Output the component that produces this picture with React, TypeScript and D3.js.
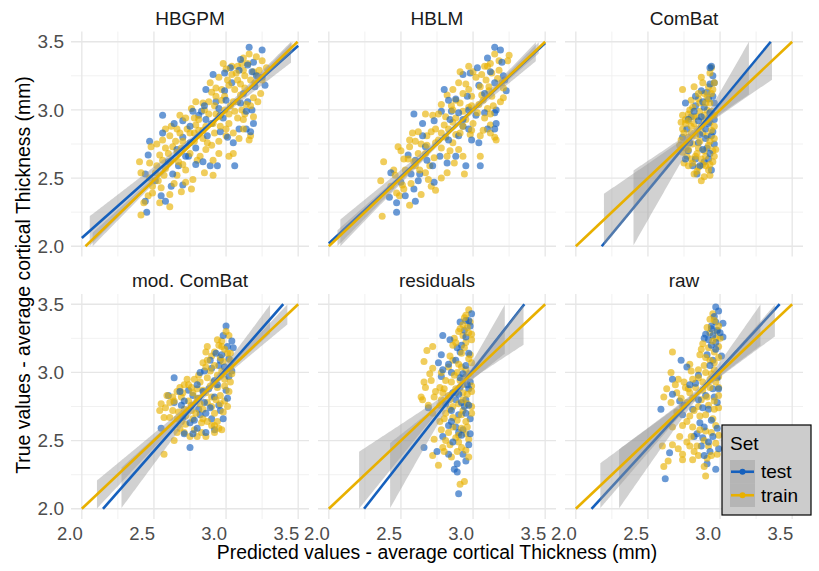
import React from "react";
import * as d3 from "d3";

const panelNames = ["HBGPM", "HBLM", "ComBat", "mod. ComBat", "residuals", "raw"];
const majorTicks = [2.0, 2.5, 3.0, 3.5];
const minorTicks = [2.25, 2.75, 3.25];
const tickLabels = ["2.0", "2.5", "3.0", "3.5"];
const setNames = ["test", "train"];

// regression lines (y = a + b x), per panel
const testSlope = [0.94, 0.98, 1.28, 1.2, 1.35, 1.15];
const testIntercept = [0.18, 0.06, -0.79, -0.576, -1.03, -0.425];
const trainSlope = [1.02, 1.0, 1.0, 1.0, 1.0, 1.0];
const trainIntercept = [-0.066, 0.0, 0.0, 0.0, 0.0, 0.0];
// confidence band: half width = sqrt(h0^2 + (k (x - mean))^2)
const testBandH0 = [0.02, 0.02, 0.03, 0.03, 0.03, 0.03];
const testBandK = [0.13, 0.12, 0.58, 0.24, 0.52, 0.37];
const trainBandH0 = [0.01, 0.01, 0.02, 0.02, 0.02, 0.02];
const trainBandK = [0.06, 0.07, 0.28, 0.13, 0.31, 0.23];
const meanX = [2.88, 2.88, 2.87, 2.88, 2.88, 2.88];

const hbgpmTest = [[3.16,3.46],[3.25,3.44],[3.19,3.35],[3.27,3.18],[2.91,3.26],[2.99,3.27],[3.03,3.31],[2.86,3.15],[2.56,2.96],[2.77,2.99],[2.83,2.99],[2.85,3.03],[2.95,3.01],[2.64,2.90],[2.70,2.92],[2.75,2.88],[2.56,2.83],[2.47,2.77],[2.46,2.67],[2.74,2.66],[2.79,2.60],[2.89,2.59],[2.94,2.59],[3.06,2.59],[3.05,2.76],[3.09,2.86],[3.14,2.86],[3.17,2.84],[3.19,2.90],[3.18,3.00],[3.14,2.99],[3.15,3.06],[3.20,3.17],[3.18,3.28],[3.15,3.33],[3.09,3.29],[3.04,3.20],[2.99,3.14],[2.62,2.44],[2.70,2.45],[2.55,2.37],[2.58,2.33],[2.44,2.33],[2.45,2.25],[2.44,2.53],[2.63,2.53],[2.67,2.59],[2.72,2.66],[2.79,2.72],[2.87,2.81],[2.96,2.96],[2.86,2.93],[2.70,2.80],[2.75,2.76],[2.98,2.94],[3.10,3.37],[3.21,3.25],[3.12,3.12],[3.00,3.07],[2.93,3.06],[2.81,2.96],[2.90,2.90],[2.96,2.84],[2.66,2.71],[2.60,2.62],[2.51,2.48],[2.84,2.62],[3.01,2.80],[3.10,3.05],[3.25,3.24]];
const hbgpmTrain = [[3.16,3.41],[3.25,3.36],[3.15,3.34],[3.08,3.32],[3.12,3.29],[3.04,3.26],[2.95,3.24],[2.89,3.20],[3.01,3.22],[3.08,3.22],[3.24,3.12],[3.19,3.09],[3.10,3.11],[3.05,3.06],[2.93,3.10],[2.88,3.06],[2.79,3.06],[2.68,2.96],[2.72,2.94],[2.81,2.93],[2.91,2.90],[2.96,2.88],[3.02,2.90],[3.08,2.94],[3.12,2.93],[3.17,2.81],[3.16,2.78],[3.09,2.79],[3.00,2.81],[2.95,2.77],[2.84,2.85],[2.78,2.83],[2.62,2.88],[2.61,2.81],[2.56,2.78],[2.65,2.77],[2.48,2.73],[2.54,2.67],[2.60,2.68],[2.69,2.72],[2.75,2.68],[2.82,2.66],[2.85,2.54],[2.91,2.52],[3.02,2.66],[3.05,2.68],[2.77,2.49],[2.76,2.42],[2.69,2.40],[2.61,2.38],[2.49,2.44],[2.41,2.54],[2.40,2.62],[2.52,2.59],[2.57,2.52],[2.49,2.39],[2.43,2.32],[2.41,2.23],[2.61,2.29],[2.53,2.48],[2.67,2.62],[2.72,2.56],[2.87,2.76],[2.93,2.97],[2.85,3.00],[2.78,2.94],[2.97,3.15],[2.99,3.10],[3.06,3.15],[3.13,3.16],[3.17,3.22],[3.23,3.29],[3.19,3.28],[3.11,3.34],[3.04,3.32],[3.17,3.03],[3.19,2.95],[3.11,3.00],[3.02,2.97],[2.81,2.85],[2.75,2.83],[2.68,2.83],[2.63,2.73],[2.56,2.63],[2.51,2.54],[2.46,2.37],[2.54,2.32],[2.64,2.46],[2.80,2.63],[2.95,2.68],[2.91,2.63],[2.86,2.71],[3.25,3.22],[3.22,3.25],[3.00,3.30],[3.07,3.27],[3.13,3.25],[3.20,3.20],[3.10,3.19],[3.02,3.18],[2.93,3.16],[2.90,3.13],[2.97,3.07],[3.03,3.03],[3.08,3.06],[3.14,3.04],[3.22,3.06],[3.13,2.97],[3.06,2.99],[2.99,3.00],[2.92,3.03],[2.84,3.05],[2.76,3.01],[2.88,2.97],[2.95,2.95],[3.00,2.86],[3.05,2.83],[3.12,2.86],[2.92,2.83],[2.86,2.88],[2.79,2.89],[2.73,2.86],[2.66,2.86],[2.58,2.86],[2.70,2.77],[2.78,2.77],[2.84,2.79],[2.90,2.74],[2.66,2.69],[2.58,2.72],[2.52,2.75],[2.62,2.63],[2.70,2.60],[2.47,2.61],[2.58,2.57],[2.66,2.52],[2.72,2.47],[2.55,2.43],[2.47,2.50],[3.28,3.31],[3.21,3.39],[3.12,3.38],[2.98,3.34]];

const hblmTest = [[3.15,3.46],[3.19,3.44],[2.98,3.27],[3.03,3.31],[2.93,3.26],[3.12,3.28],[3.04,3.18],[3.15,3.20],[3.23,3.14],[3.20,3.35],[2.80,3.15],[2.83,3.07],[2.78,2.99],[2.73,2.92],[2.85,2.99],[2.90,2.98],[2.97,3.00],[3.02,2.96],[3.16,3.00],[3.15,2.98],[3.16,2.90],[3.10,2.86],[3.15,2.86],[3.04,2.76],[3.05,2.59],[2.95,2.59],[2.88,2.66],[2.77,2.66],[2.72,2.59],[2.59,2.97],[2.65,2.90],[2.55,2.67],[2.65,2.81],[2.43,2.54],[2.57,2.53],[2.63,2.53],[2.62,2.48],[2.73,2.47],[2.59,2.42],[2.53,2.37],[2.47,2.32],[2.60,2.33],[2.47,2.25],[2.42,2.36],[2.67,2.73],[2.83,2.78],[2.90,2.81],[2.97,2.86],[2.93,2.88],[3.10,3.38],[3.21,3.25],[3.08,3.12],[2.96,3.10],[2.88,3.08],[2.84,2.93],[2.93,2.93],[2.99,2.78],[2.60,2.63],[2.68,2.63],[2.50,2.47],[2.82,2.61],[3.08,2.98],[3.22,3.22]];
const hblmTrain = [[3.15,3.41],[3.24,3.36],[3.12,3.34],[3.08,3.32],[2.97,3.32],[3.18,3.29],[2.90,3.20],[2.97,3.15],[3.09,3.22],[3.13,3.10],[3.19,3.06],[3.06,3.11],[2.99,3.10],[2.88,3.07],[2.82,3.11],[2.78,3.04],[2.72,2.96],[2.81,2.95],[2.88,2.94],[2.95,2.93],[3.00,2.90],[3.08,2.94],[3.12,2.89],[3.16,2.78],[3.05,2.66],[2.98,2.82],[2.91,2.83],[2.83,2.86],[2.78,2.83],[2.71,2.84],[2.62,2.84],[2.56,2.78],[2.58,2.83],[2.48,2.73],[2.52,2.64],[2.38,2.62],[2.45,2.56],[2.59,2.62],[2.67,2.68],[2.73,2.65],[2.82,2.66],[2.87,2.61],[2.94,2.53],[2.82,2.54],[2.78,2.50],[2.74,2.41],[2.64,2.38],[2.56,2.30],[2.36,2.48],[2.37,2.22],[2.47,2.39],[2.51,2.45],[2.67,2.54],[2.70,2.59],[2.63,2.56],[2.49,2.37],[2.43,2.44],[2.76,2.78],[2.86,2.76],[2.90,2.71],[2.80,2.89],[2.97,3.02],[3.04,3.04],[3.10,3.01],[2.93,3.12],[3.02,3.24],[3.11,3.17],[3.17,3.23],[3.21,3.16],[3.15,2.80],[3.07,2.85],[2.56,2.73],[2.67,2.97],[2.74,2.76],[2.64,2.75],[2.86,3.00],[2.53,2.56],[2.71,2.44],[3.00,3.28],[3.06,3.26],[3.13,3.27],[3.20,3.20],[3.11,3.14],[3.05,3.17],[2.95,3.19],[2.86,3.15],[2.91,3.05],[2.99,3.03],[3.07,3.07],[3.14,3.03],[3.21,3.09],[3.12,2.97],[3.03,2.98],[2.93,2.99],[2.85,3.03],[2.76,2.97],[2.86,2.91],[2.93,2.88],[2.99,2.85],[3.05,2.81],[3.12,2.83],[2.88,2.82],[2.81,2.80],[2.74,2.86],[2.68,2.81],[2.60,2.77],[2.68,2.74],[2.78,2.72],[2.84,2.70],[2.93,2.66],[2.62,2.68],[2.55,2.64],[2.50,2.70],[2.60,2.59],[2.69,2.49],[2.57,2.46],[2.46,2.52],[2.52,2.42],[3.25,3.40],[3.18,3.36],[3.10,3.32],[2.91,3.28]];

const combatTest = [[2.94,3.32],[2.93,3.31],[2.95,3.25],[2.93,3.19],[2.91,3.13],[2.83,3.10],[2.76,3.05],[2.82,2.99],[2.89,3.02],[2.93,2.98],[2.96,2.93],[2.85,2.92],[2.77,2.86],[2.90,2.86],[2.94,2.81],[2.88,2.71],[2.93,2.68],[2.83,2.64],[2.86,2.59],[2.92,2.64],[2.76,2.64],[2.81,2.59],[2.96,2.75],[2.74,2.80],[2.79,2.76],[2.92,3.08],[2.87,3.14],[2.96,3.05],[2.90,2.79],[2.85,2.76],[2.78,2.93],[2.95,3.10],[2.88,3.06],[2.80,2.95],[2.87,2.95],[2.92,2.90],[2.95,2.84],[2.86,2.82],[2.91,2.72],[2.78,2.70],[2.89,2.62],[2.94,2.56],[2.84,2.53],[2.96,3.20],[2.83,3.03]];
const combatTrain = [[2.94,3.31],[2.93,3.27],[2.96,3.20],[2.74,3.15],[2.92,3.17],[2.85,3.12],[2.80,3.07],[2.74,2.96],[2.73,2.91],[2.76,2.93],[2.82,2.95],[2.89,2.96],[2.94,2.99],[2.96,2.88],[2.87,2.88],[2.80,2.88],[2.75,2.83],[2.73,2.78],[2.78,2.80],[2.83,2.81],[2.91,2.81],[2.96,2.79],[2.92,2.74],[2.85,2.72],[2.78,2.71],[2.74,2.69],[2.77,2.66],[2.83,2.66],[2.90,2.66],[2.96,2.66],[2.93,2.60],[2.88,2.60],[2.78,2.59],[2.89,2.51],[2.93,2.52],[2.84,2.55],[2.75,2.61],[2.87,3.24],[2.90,3.05],[2.81,3.02],[2.86,3.05],[2.93,2.91],[2.82,3.17],[2.78,2.97],[2.84,2.86],[2.94,3.12],[2.77,2.76],[2.90,2.59],[2.81,2.61],[2.97,2.71],[2.88,3.20],[2.95,3.15],[2.85,3.08],[2.91,3.09],[2.79,3.00],[2.86,2.99],[2.92,2.94],[2.76,2.90],[2.82,2.90],[2.89,2.92],[2.94,2.85],[2.88,2.83],[2.80,2.83],[2.74,2.86],[2.86,2.77],[2.93,2.77],[2.81,2.75],[2.76,2.72],[2.89,2.70],[2.95,2.70],[2.84,2.68],[2.80,2.64],[2.87,2.64],[2.92,2.56],[2.85,2.58],[2.82,2.53],[2.87,2.48],[2.91,3.00],[2.84,2.95],[2.78,2.92],[2.89,3.12],[2.93,3.05],[2.72,2.74],[2.96,2.96],[2.95,2.62]];

const modTest = [[3.00,3.34],[2.98,3.27],[3.04,3.23],[3.01,3.19],[3.05,3.18],[2.93,3.14],[2.96,3.09],[2.89,3.09],[2.85,3.01],[2.82,3.00],[2.64,2.96],[2.80,2.91],[2.74,2.87],[2.68,2.86],[2.64,2.78],[2.69,2.76],[2.81,2.81],[2.88,2.88],[2.92,2.94],[3.02,2.97],[3.04,3.01],[3.00,2.87],[3.01,2.81],[2.96,2.72],[2.98,2.66],[2.90,2.66],[2.86,2.70],[2.81,2.73],[2.78,2.65],[2.75,2.63],[2.80,2.59],[2.71,2.55],[2.86,2.56],[2.55,2.59],[2.75,2.45],[2.85,2.78],[2.95,3.05],[2.92,2.82],[3.02,3.10],[2.97,3.13],[2.90,3.03],[2.99,3.04],[2.94,2.91],[2.84,2.86],[2.77,2.83],[2.71,2.79],[2.95,2.76],[2.89,2.74],[2.82,2.69],[2.70,2.67],[2.92,2.58],[2.77,2.55],[2.60,2.83]];
const modTrain = [[3.02,3.27],[2.97,3.23],[2.95,3.20],[2.92,3.15],[3.01,3.14],[2.87,3.09],[2.84,3.07],[2.98,3.08],[3.03,3.04],[2.89,3.01],[2.94,2.98],[2.99,2.95],[3.03,2.93],[2.78,2.95],[2.73,2.95],[2.82,2.93],[2.71,2.91],[2.66,2.86],[2.59,2.83],[2.63,2.82],[2.69,2.82],[2.77,2.85],[2.84,2.87],[2.90,2.82],[2.96,2.83],[3.02,2.86],[3.01,2.75],[2.96,2.77],[2.90,2.75],[2.82,2.77],[2.76,2.76],[2.71,2.73],[2.63,2.72],[2.55,2.77],[2.54,2.72],[2.57,2.67],[2.66,2.66],[2.72,2.68],[2.79,2.70],[2.87,2.64],[2.94,2.64],[2.97,2.58],[2.92,2.61],[2.83,2.63],[2.72,2.62],[2.68,2.59],[2.75,2.53],[2.80,2.53],[2.64,2.50],[2.57,2.40],[2.86,2.53],[2.97,3.19],[2.87,3.19],[3.03,3.14],[2.89,2.90],[2.94,2.89],[2.76,2.89],[2.86,3.15],[2.68,2.89],[2.61,2.78],[3.00,3.30],[2.94,3.24],[2.99,3.17],[2.90,3.12],[2.96,3.11],[3.03,3.09],[2.92,3.05],[2.97,3.01],[2.86,3.04],[2.81,2.98],[2.87,2.96],[2.91,2.93],[2.99,2.90],[2.74,2.91],[2.80,2.88],[2.86,2.85],[2.93,2.80],[2.99,2.79],[2.70,2.85],[2.64,2.79],[2.74,2.79],[2.80,2.81],[2.87,2.78],[2.58,2.74],[2.67,2.71],[2.76,2.72],[2.84,2.73],[2.92,2.70],[2.98,2.71],[2.61,2.67],[2.69,2.64],[2.77,2.66],[2.84,2.66],[2.90,2.61],[2.95,2.59],[2.78,2.58],[2.71,2.56],[2.83,2.56],[2.92,2.56],[2.66,2.56],[3.04,2.99]];

const residTest = [[2.99,3.43],[2.95,3.38],[2.91,3.37],[2.98,3.34],[2.79,3.27],[2.84,3.24],[2.92,3.20],[2.95,3.26],[2.91,3.15],[2.78,3.13],[2.88,3.09],[2.95,3.05],[2.76,3.07],[2.79,3.02],[2.85,3.00],[2.93,2.99],[2.98,2.93],[2.91,2.89],[2.86,2.85],[2.95,2.80],[2.92,2.78],[2.88,2.80],[2.81,2.77],[2.69,2.74],[2.94,2.75],[2.98,2.66],[2.85,2.64],[2.88,2.60],[2.83,2.61],[2.93,2.58],[2.92,2.54],[2.79,2.53],[2.97,2.47],[2.66,2.45],[2.75,2.42],[2.83,2.40],[2.93,2.40],[2.87,2.29],[2.89,2.27],[2.90,2.11],[2.90,2.69],[2.97,2.88],[2.78,2.97],[2.97,3.38],[2.94,3.31],[2.97,3.14],[2.89,3.18],[2.83,3.06],[2.91,2.96],[2.96,2.91],[2.90,2.84],[2.97,2.76],[2.85,2.72],[2.95,2.70],[2.90,2.56],[2.98,2.55],[2.86,2.49],[2.95,2.35],[2.89,2.33]];
const residTrain = [[2.97,3.46],[2.95,3.42],[2.93,3.35],[2.98,3.37],[2.90,3.30],[2.97,3.29],[2.68,3.16],[2.72,3.19],[2.86,3.20],[2.94,3.18],[2.98,3.13],[2.84,3.12],[2.72,3.03],[2.71,2.94],[2.66,2.93],[2.67,2.89],[2.77,2.89],[2.91,2.94],[2.81,2.94],[2.87,2.98],[2.95,2.97],[2.99,2.86],[2.93,2.85],[2.83,2.83],[2.73,2.82],[2.64,2.82],[2.65,2.80],[2.77,2.76],[2.86,2.75],[2.99,2.75],[2.72,2.70],[2.81,2.70],[2.92,2.69],[2.77,2.64],[2.86,2.67],[2.96,2.60],[2.83,2.56],[2.73,2.51],[2.81,2.50],[2.90,2.49],[2.97,2.51],[2.79,2.45],[2.92,2.45],[2.72,2.39],[2.85,2.38],[2.97,2.38],[2.76,2.32],[2.91,2.18],[2.94,2.20],[2.99,3.07],[2.92,3.04],[2.79,2.85],[2.88,2.88],[2.70,2.99],[2.66,3.08],[2.99,3.24],[2.87,3.25],[2.93,2.80],[2.84,2.80],[2.90,2.54],[2.94,3.40],[2.91,3.32],[2.96,3.33],[2.93,3.27],[2.99,3.28],[2.88,3.22],[2.95,3.22],[2.92,3.14],[2.97,3.10],[2.86,3.09],[2.90,3.06],[2.95,3.02],[2.83,3.04],[2.78,3.00],[2.89,3.00],[2.97,2.99],[2.85,2.93],[2.93,2.91],[2.99,2.90],[2.80,2.88],[2.88,2.85],[2.96,2.84],[2.78,2.80],[2.90,2.77],[2.96,2.77],[2.84,2.73],[2.93,2.72],[2.99,2.70],[2.80,2.66],[2.89,2.65],[2.95,2.64],[2.86,2.60],[2.92,2.59],[2.78,2.58],[2.88,2.52],[2.95,2.55],[2.84,2.47],[2.95,2.43],[2.80,2.42],[2.89,2.42],[2.69,2.76],[2.74,2.86]];

const rawTest = [[2.97,3.48],[2.99,3.45],[2.97,3.37],[3.02,3.36],[2.94,3.34],[2.90,3.28],[2.95,3.27],[2.89,3.25],[3.02,3.26],[2.94,3.20],[2.97,3.17],[2.73,3.09],[2.77,3.04],[2.93,3.05],[2.98,2.96],[2.79,2.91],[2.67,2.84],[2.72,2.79],[2.85,2.80],[2.90,2.83],[2.98,2.78],[2.59,2.73],[2.81,2.73],[2.92,2.73],[2.74,2.69],[2.86,2.63],[2.89,2.60],[2.82,2.53],[2.95,2.53],[2.88,2.52],[2.87,2.46],[2.93,2.42],[2.89,2.39],[2.97,2.29],[2.65,2.41],[2.62,2.22],[2.95,2.88],[2.99,2.88],[2.85,2.98],[2.67,2.95],[2.94,3.32],[2.98,3.31],[2.96,3.41],[3.00,3.29],[2.92,3.24],[2.97,3.22],[3.01,3.12],[2.91,3.13],[2.95,3.09],[2.83,2.92],[2.96,2.82],[2.88,2.74],[2.94,2.65],[2.98,2.59],[2.84,2.55],[2.92,2.49],[2.99,2.44],[2.91,2.33],[2.75,2.76]];
const rawTrain = [[2.95,3.43],[2.93,3.39],[2.99,3.34],[2.93,3.29],[3.00,3.25],[2.88,3.21],[2.96,3.15],[2.67,3.15],[2.90,3.11],[2.79,3.06],[2.96,3.07],[2.85,3.02],[2.90,3.00],[2.66,3.00],[2.71,2.95],[2.75,2.93],[2.81,2.95],[2.88,2.93],[2.97,2.93],[2.63,2.88],[2.70,2.85],[2.79,2.85],[2.88,2.87],[2.61,2.82],[2.66,2.78],[2.77,2.78],[2.85,2.75],[2.96,2.73],[2.70,2.71],[2.79,2.68],[2.90,2.69],[2.74,2.61],[2.81,2.60],[2.90,2.57],[2.97,2.61],[2.72,2.53],[2.77,2.49],[2.67,2.47],[2.84,2.46],[2.92,2.46],[2.74,2.40],[2.85,2.39],[2.94,2.39],[2.60,2.46],[2.64,2.35],[2.74,2.36],[2.81,2.36],[2.61,2.31],[2.89,2.31],[2.90,2.24],[2.79,2.46],[2.87,3.17],[2.97,3.25],[2.94,2.99],[2.78,2.88],[2.87,2.80],[2.99,2.83],[2.96,3.38],[2.98,3.30],[2.91,3.33],[2.95,3.23],[2.99,3.19],[2.92,3.18],[2.86,3.13],[2.93,3.09],[2.99,3.11],[2.89,3.05],[2.96,3.02],[2.80,3.01],[2.85,2.96],[2.93,2.95],[2.99,2.97],[2.76,2.89],[2.83,2.89],[2.93,2.89],[2.99,2.89],[2.73,2.81],[2.81,2.81],[2.91,2.82],[2.96,2.79],[2.74,2.75],[2.82,2.72],[2.92,2.76],[2.99,2.74],[2.86,2.68],[2.95,2.66],[2.77,2.64],[2.86,2.58],[2.94,2.56],[2.99,2.54],[2.80,2.53],[2.89,2.50],[2.97,2.48],[2.71,2.44],[2.82,2.42],[2.91,2.37],[2.98,2.40],[2.67,2.60],[2.69,2.91]];

const testPoints = [hbgpmTest, hblmTest, combatTest, modTest, residTest, rawTest];
const trainPoints = [hbgpmTrain, hblmTrain, combatTrain, modTrain, residTrain, rawTrain];

const BLUE = "#1560BD";
const YELLOW = "#E8B000";
const FONT = "Liberation Sans, Arial, Helvetica, sans-serif";

const colLeft = [71, 318, 565];
const rowTop = [31.5, 294];
const PW = 238;
const PH = 225;
const LIM: [number, number] = [2.0, 3.5];
const DOMAIN: [number, number] = [1.925, 3.575];

function lineSegment(a: number, b: number): [number, number][] {
  let x0 = LIM[0];
  let x1 = LIM[1];
  const xa = (LIM[0] - a) / b;
  const xb = (LIM[1] - a) / b;
  x0 = Math.max(x0, Math.min(xa, xb));
  x1 = Math.min(x1, Math.max(xa, xb));
  return [[x0, a + b * x0], [x1, a + b * x1]];
}

function bandPoints(a: number, b: number, h0: number, k: number, m: number) {
  const xs = d3.range(LIM[0], LIM[1] + 1e-9, 0.005);
  return xs
    .map((x) => {
      const y = a + b * x;
      const hw = Math.sqrt(h0 * h0 + (k * (x - m)) ** 2);
      return { x, lo: y - hw, hi: y + hw };
    })
    .filter((p) => p.lo >= LIM[0] && p.hi <= LIM[1]);
}

function Panel({ i }: { i: number }) {
  const col = i % 3;
  const row = Math.floor(i / 3);
  const left = colLeft[col];
  const top = rowTop[row];
  const x = d3.scaleLinear().domain(DOMAIN).range([left, left + PW]);
  const y = d3.scaleLinear().domain(DOMAIN).range([top + PH, top]);
  const area = d3
    .area<{ x: number; lo: number; hi: number }>()
    .x((d) => x(d.x))
    .y0((d) => y(d.lo))
    .y1((d) => y(d.hi));
  const line = d3
    .line<[number, number]>()
    .x((d) => x(d[0]))
    .y((d) => y(d[1]));

  const groups = [
    { color: BLUE, a: testIntercept[i], b: testSlope[i], h0: testBandH0[i], k: testBandK[i] },
    { color: YELLOW, a: trainIntercept[i], b: trainSlope[i], h0: trainBandH0[i], k: trainBandK[i] },
  ];

  const pts = [
    ...trainPoints[i].map((p, j) => ({ p, c: YELLOW, o: (j * 37) % 101 })),
    ...testPoints[i].map((p, j) => ({ p, c: BLUE, o: (j * 53 + 11) % 101 })),
  ].sort((u, v) => u.o - v.o);

  return (
    <g>
      {minorTicks.map((t) => (
        <g key={"mn" + t}>
          <line x1={x(t)} x2={x(t)} y1={top} y2={top + PH} stroke="#EFEFEF" strokeWidth={0.9} />
          <line x1={left} x2={left + PW} y1={y(t)} y2={y(t)} stroke="#EFEFEF" strokeWidth={0.9} />
        </g>
      ))}
      {majorTicks.map((t) => (
        <g key={"mj" + t}>
          <line x1={x(t)} x2={x(t)} y1={top} y2={top + PH} stroke="#E6E6E6" strokeWidth={1.3} />
          <line x1={left} x2={left + PW} y1={y(t)} y2={y(t)} stroke="#E6E6E6" strokeWidth={1.3} />
        </g>
      ))}
      <text x={left + PW / 2} y={top - 7} textAnchor="middle" fontSize={19} fill="#1A1A1A" fontFamily={FONT}>
        {panelNames[i]}
      </text>
      {pts.map((d, j) => (
        <circle key={j} cx={x(d.p[0])} cy={y(d.p[1])} r={3.5} fill={d.c} fillOpacity={0.64} />
      ))}
      {groups.map((g, j) => {
        const bp = bandPoints(g.a, g.b, g.h0, g.k, meanX[i]);
        return (
          <g key={"g" + j}>
            {bp.length > 1 && <path d={area(bp) || ""} fill="#999999" fillOpacity={0.45} />}
            <path d={line(lineSegment(g.a, g.b)) || ""} stroke={g.color} strokeWidth={2.6} fill="none" />
          </g>
        );
      })}
      {row === 1 &&
        majorTicks.map((t, j) => (
          <text key={"xt" + t} x={x(t) + 1} y={540} textAnchor="end" fontSize={18.5} fill="#4D4D4D" fontFamily={FONT}>
            {tickLabels[j]}
          </text>
        ))}
      {col === 0 &&
        majorTicks.map((t, j) => (
          <text key={"yt" + t} x={64} y={y(t)} dy="0.35em" textAnchor="end" fontSize={19} fill="#4D4D4D" fontFamily={FONT}>
            {tickLabels[j]}
          </text>
        ))}
    </g>
  );
}

function Legend() {
  const lx = 722;
  const ly = 425;
  const colors = [BLUE, YELLOW];
  return (
    <g>
      <rect x={lx} y={ly} width={89} height={90} fill="#CCCCCC" stroke="#000" strokeWidth={1.2} />
      <text x={lx + 8} y={ly + 25} fontSize={19} fill="#000" fontFamily={FONT}>Set</text>
      {setNames.map((s, j) => {
        const ky = ly + 35 + j * 23.5;
        return (
          <g key={s}>
            <rect x={lx + 8} y={ky} width={25} height={23.5} fill="#999999" fillOpacity={0.45} />
            <line x1={lx + 9} x2={lx + 32} y1={ky + 11.75} y2={ky + 11.75} stroke={colors[j]} strokeWidth={2.6} />
            <circle cx={lx + 20.5} cy={ky + 11.75} r={3} fill={colors[j]} />
            <text x={lx + 39} y={ky + 11.75} dy="0.35em" fontSize={19} fill="#000" fontFamily={FONT}>{s}</text>
          </g>
        );
      })}
    </g>
  );
}

export default function App() {
  return (
    <svg width={819} height={571} style={{ position: "absolute", left: 0, top: 0, background: "#fff" }}>
      <rect x={0} y={0} width={819} height={571} fill="#fff" />
      {panelNames.map((_, i) => (
        <Panel key={i} i={i} />
      ))}
      <text x={437} y={559} textAnchor="middle" fontSize={19.4} fill="#000" fontFamily={FONT}>
        Predicted values - average cortical Thickness (mm)
      </text>
      <text transform="translate(30,275) rotate(-90)" textAnchor="middle" fontSize={19.4} fill="#000" fontFamily={FONT}>
        True values - average cortical Thickness (mm)
      </text>
      <Legend />
    </svg>
  );
}
